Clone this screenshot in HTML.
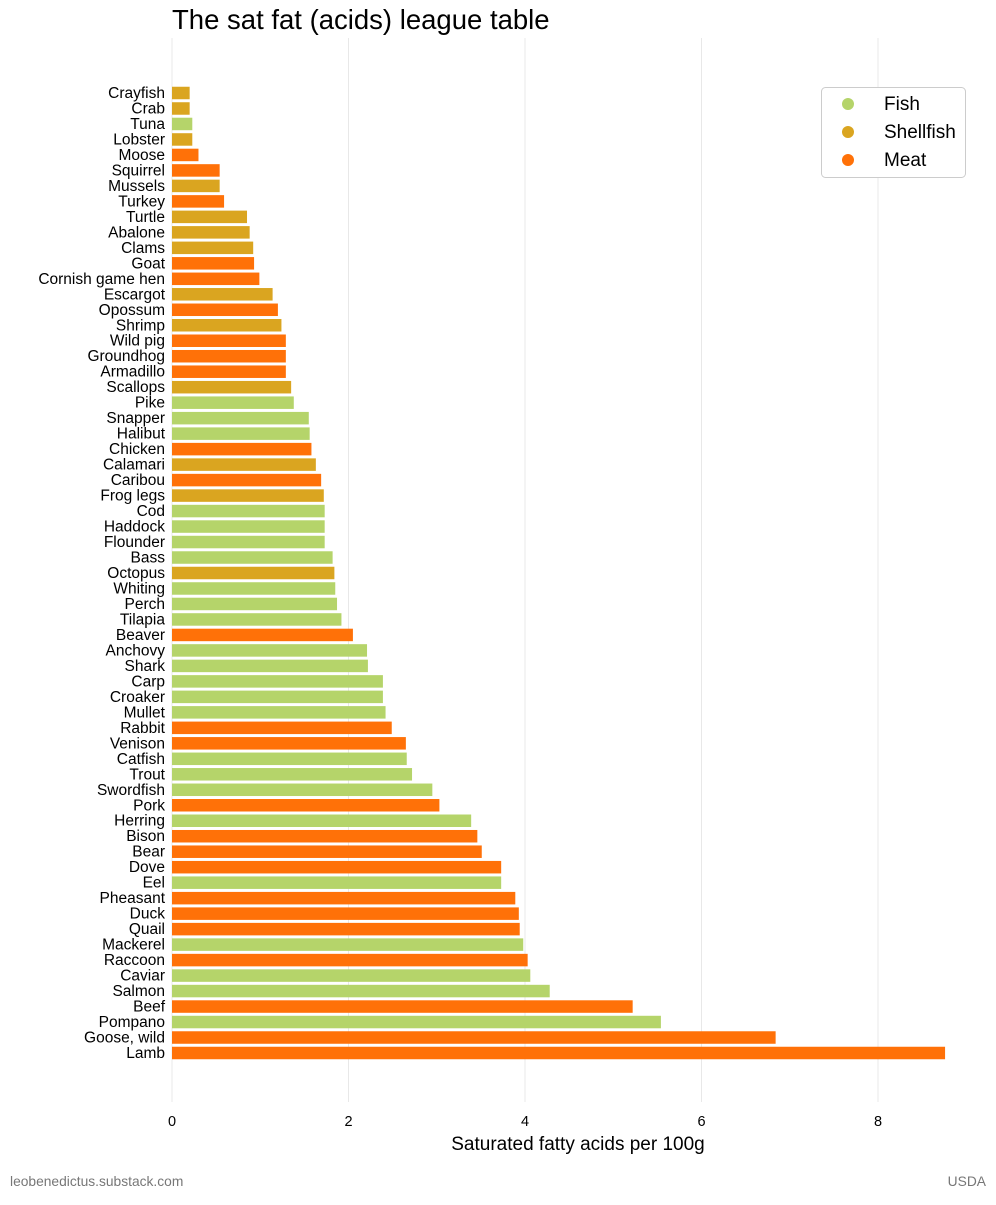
<!DOCTYPE html>
<html><head><meta charset="utf-8"><style>
body{margin:0;background:#fff;font-family:"Liberation Sans",Arial,sans-serif;}
svg text{font-family:"Liberation Sans",Arial,sans-serif;}
</style></head><body>
<svg id="chart" width="996" height="1200" xmlns="http://www.w3.org/2000/svg">
<rect width="996" height="1200" fill="#fff"/>
<text x="172" y="29" font-size="27.5" fill="#000">The sat fat (acids) league table</text>
<g id="grid"></g><g id="bars"></g><g id="ylabels"></g><g id="xticks"></g>
<text x="578" y="1150" font-size="19" text-anchor="middle">Saturated fatty acids per 100g</text>
<text x="10" y="1186" font-size="13.8" fill="#777">leobenedictus.substack.com</text>
<text x="986" y="1186" font-size="13.8" fill="#777" text-anchor="end">USDA</text>
<g>
<rect x="821.5" y="87.5" width="144" height="90" rx="4" fill="#fff" stroke="#ccc"/>
<circle cx="848" cy="104" r="6" fill="#b5d46a"/>
<text x="884" y="110" font-size="19">Fish</text>
<circle cx="848" cy="132" r="6" fill="#daa520"/>
<text x="884" y="138" font-size="19">Shellfish</text>
<circle cx="848" cy="160" r="6" fill="#ff7108"/>
<text x="884" y="166" font-size="19">Meat</text>
</g>
</svg>
<script>
const categories=["Crayfish","Crab","Tuna","Lobster","Moose","Squirrel","Mussels","Turkey","Turtle","Abalone","Clams","Goat","Cornish game hen","Escargot","Opossum","Shrimp","Wild pig","Groundhog","Armadillo","Scallops","Pike","Snapper","Halibut","Chicken","Calamari","Caribou","Frog legs","Cod","Haddock","Flounder","Bass","Octopus","Whiting","Perch","Tilapia","Beaver","Anchovy","Shark","Carp","Croaker","Mullet","Rabbit","Venison","Catfish","Trout","Swordfish","Pork","Herring","Bison","Bear","Dove","Eel","Pheasant","Duck","Quail","Mackerel","Raccoon","Caviar","Salmon","Beef","Pompano","Goose, wild","Lamb"];
const values=[0.20,0.20,0.23,0.23,0.30,0.54,0.54,0.59,0.85,0.88,0.92,0.93,0.99,1.14,1.20,1.24,1.29,1.29,1.29,1.35,1.38,1.55,1.56,1.58,1.63,1.69,1.72,1.73,1.73,1.73,1.82,1.84,1.85,1.87,1.92,2.05,2.21,2.22,2.39,2.39,2.42,2.49,2.65,2.66,2.72,2.95,3.03,3.39,3.46,3.51,3.73,3.73,3.89,3.93,3.94,3.98,4.03,4.06,4.28,5.22,5.54,6.84,8.76];
const groups=["S","S","F","S","M","M","S","M","S","S","S","M","M","S","M","S","M","M","M","S","F","F","F","M","S","M","S","F","F","F","F","S","F","F","F","M","F","F","F","F","F","M","M","F","F","F","M","F","M","M","M","F","M","M","M","F","M","F","F","M","F","M","M"];
const xTicks=[0,2,4,6,8];
const colors={F:"#b5d46a",S:"#daa520",M:"#ff7108"};
const NS="http://www.w3.org/2000/svg";
const x=v=>172+v*88.25;
const y=i=>93+i*(1053-93)/(categories.length-1);
const bh=12.5;
const grid=document.getElementById('grid'),bars=document.getElementById('bars'),yl=document.getElementById('ylabels'),xt=document.getElementById('xticks');
xTicks.forEach(t=>{
 const l=document.createElementNS(NS,'line');
 l.setAttribute('x1',x(t));l.setAttribute('x2',x(t));l.setAttribute('y1',38);l.setAttribute('y2',1102);
 l.setAttribute('stroke','#e8e8e8');
 
 
 grid.appendChild(l);
 const tx=document.createElementNS(NS,'text');
 tx.setAttribute('x',x(t));tx.setAttribute('y',1126);tx.setAttribute('font-size','14.5');tx.setAttribute('text-anchor','middle');
 tx.textContent=t;
 
 
 xt.appendChild(tx);
});
categories.forEach((c,i)=>{
 const r=document.createElementNS(NS,'rect');
 r.setAttribute('x',x(0));r.setAttribute('y',y(i)-bh/2);r.setAttribute('width',x(values[i])-x(0));r.setAttribute('height',bh);
 r.setAttribute('fill',colors[groups[i]]);
 
 
 bars.appendChild(r);
 const t=document.createElementNS(NS,'text');
 t.setAttribute('x',165);t.setAttribute('y',y(i)+5);t.setAttribute('font-size','15.5');t.setAttribute('text-anchor','end');
 t.textContent=c;
 
 
 yl.appendChild(t);
});
</script>
</body></html>
